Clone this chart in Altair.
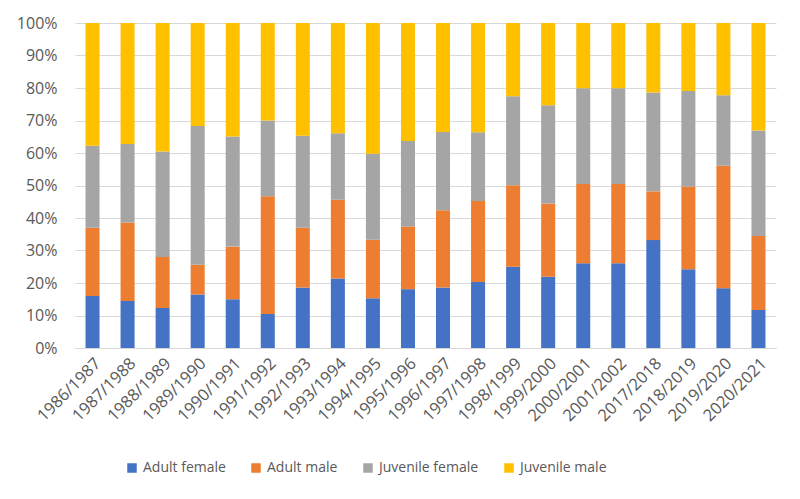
import altair as alt
import pandas as pd

seasons = ["1986/1987", "1987/1988", "1988/1989", "1989/1990", "1990/1991", "1991/1992",
           "1992/1993", "1993/1994", "1994/1995", "1995/1996", "1996/1997", "1997/1998",
           "1998/1999", "1999/2000", "2000/2001", "2001/2002", "2017/2018", "2018/2019",
           "2019/2020", "2020/2021"]
groups = ["Adult female", "Adult male", "Juvenile female", "Juvenile male"]
colors = ["#4472C4", "#ED7D31", "#A5A5A5", "#FFC000"]

# shares in percent
adult_female = [16.0, 14.5, 12.3, 16.5, 15.0, 10.5, 18.6, 21.4, 15.3, 18.1,
                18.6, 20.3, 25.0, 21.9, 26.1, 26.1, 33.2, 24.2, 18.4, 11.7]
adult_male = [21.0, 24.1, 15.7, 9.1, 16.2, 36.2, 18.4, 24.2, 18.0, 19.3,
              23.8, 24.9, 25.1, 22.6, 24.4, 24.4, 15.0, 25.5, 37.7, 22.8]
juvenile_female = [25.2, 24.2, 32.5, 42.7, 33.9, 23.3, 28.3, 20.5, 26.5, 26.3,
                   24.1, 21.2, 27.4, 30.2, 29.4, 29.4, 30.4, 29.4, 21.7, 32.4]
juvenile_male = [37.8, 37.2, 39.5, 31.7, 34.9, 30.0, 34.7, 33.9, 40.2, 36.3,
                 33.5, 33.6, 22.5, 25.3, 20.1, 20.1, 21.4, 20.9, 22.2, 33.1]

rows = []
for i, s in enumerate(seasons):
    for k, (g, vals) in enumerate(zip(groups, [adult_female, adult_male, juvenile_female, juvenile_male])):
        rows.append({"season": s, "group": g, "value": vals[i], "order": k})
df = pd.DataFrame(rows)

font = "Open Sans"
txt = "#595959"

chart = alt.Chart(df).mark_bar().encode(
    x=alt.X("season:N", sort=seasons, title=None,
            scale=alt.Scale(paddingInner=0.6, paddingOuter=0.3),
            axis=alt.Axis(labelAngle=-45, labelFontSize=16.5, labelColor=txt, labelFont=font,
                          ticks=False, domainColor="#D9D9D9", labelPadding=7)),
    y=alt.Y("value:Q", stack="normalize", title=None,
            scale=alt.Scale(domain=[0, 1]),
            axis=alt.Axis(format="%", values=[i / 10 for i in range(11)], labelFontSize=16,
                          labelColor=txt, labelFont=font, ticks=False, domain=False,
                          gridColor="#D9D9D9", labelPadding=18)),
    color=alt.Color("group:N", sort=groups,
                    scale=alt.Scale(domain=groups, range=colors),
                    legend=alt.Legend(title=None, orient="none", legendX=50, legendY=438,
                                      direction="horizontal", symbolType="square",
                                      symbolSize=90, symbolStrokeWidth=0, labelFontSize=14,
                                      labelColor=txt, labelFont=font, columnPadding=23,
                                      labelOffset=4, symbolOffset=0)),
    order=alt.Order("order:Q", sort="ascending"),
).properties(
    width=701, height=325,
    autosize=alt.AutoSizeParams(type="none"),
    padding={"left": 67, "top": 15, "right": 16, "bottom": 140},
).configure_view(stroke=None)

chart.save("out.html", embed_options={"renderer": "svg", "actions": False})
